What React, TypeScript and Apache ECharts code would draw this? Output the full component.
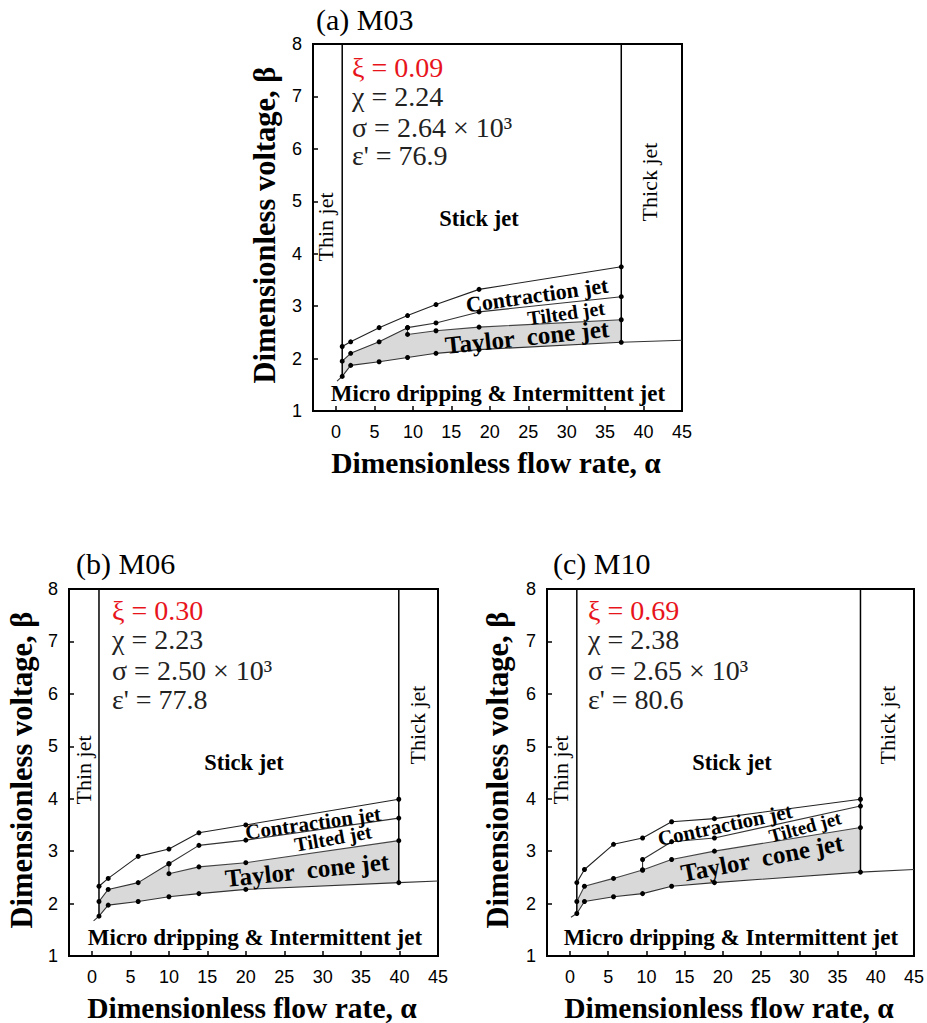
import React, { useEffect, useRef } from "react";
import * as echarts from "echarts";

// ---------- axis ticks ----------
const xTicks = [0, 5, 10, 15, 20, 25, 30, 35, 40, 45];
const xMin = -3;
const xMax = 45;
const yMin = 1;
const yMax = 8;

// ---------- Panel (a) M03 ----------
const aAlpha = [0.8, 1.9, 5.6, 9.3, 13.0, 18.6, 37.1];
const aContraction = [2.23, 2.32, 2.59, 2.82, 3.03, 3.32, 3.75];
const aTilted: (number | null)[] = [1.95, 2.1, 2.32, 2.59, 2.68, 2.89, 3.18];
const aTaylorTop: (number | null)[] = [null, null, null, 2.46, 2.53, 2.6, 2.74];
const aTaylorBottom = [1.66, 1.87, 1.94, 2.02, 2.1, 2.17, 2.31];
const aStart = [0.13, 1.57];
const aEnd = [45, 2.35];
const aParams = ["ξ = 0.09", "χ = 2.24", "σ = 2.64 × 10³", "ε' = 76.9"];

// ---------- Panel (b) M06 ----------
const bAlpha = [0.9, 2.1, 6.0, 10.0, 13.9, 20.0, 39.9];
const bContraction = [2.33, 2.48, 2.9, 3.04, 3.35, 3.5, 3.99];
const bTilted: (number | null)[] = [2.04, 2.27, 2.4, 2.76, 3.11, 3.21, 3.63];
const bTaylorTop: (number | null)[] = [null, null, null, 2.57, 2.7, 2.78, 3.2];
const bTaylorBottom = [1.76, 1.97, 2.04, 2.13, 2.19, 2.27, 2.4];
const bStart = [0.2, 1.67];
const bEnd = [45, 2.43];
const bParams = ["ξ = 0.30", "χ = 2.23", "σ = 2.50 × 10³", "ε' = 77.8"];

// ---------- Panel (c) M10 ----------
const cAlpha = [0.9, 1.9, 5.7, 9.5, 13.3, 18.9, 38.0];
const cContraction = [2.4, 2.65, 3.13, 3.25, 3.56, 3.62, 3.99];
const cTilted: (number | null)[] = [null, null, null, 2.84, 3.18, 3.25, 3.86];
const cTaylorTop: (number | null)[] = [2.04, 2.33, 2.48, 2.64, 2.84, 3.0, 3.45];
const cTaylorBottom = [1.81, 2.04, 2.13, 2.19, 2.33, 2.4, 2.6];
const cStart = [0.13, 1.74];
const cEnd = [45, 2.65];
const cParams = ["ξ = 0.69", "χ = 2.38", "σ = 2.65 × 10³", "ε' = 80.6"];

const SERIF = "'Liberation Serif', 'Times New Roman', serif";
const SANS = "'Liberation Sans', Arial, sans-serif";

type Panel = {
  alpha: number[];
  contraction: number[];
  tilted: (number | null)[];
  taylorTop: (number | null)[];
  bottom: number[];
  start: number[];
  end: number[];
};

const panels: Panel[] = [
  { alpha: aAlpha, contraction: aContraction, tilted: aTilted, taylorTop: aTaylorTop, bottom: aTaylorBottom, start: aStart, end: aEnd },
  { alpha: bAlpha, contraction: bContraction, tilted: bTilted, taylorTop: bTaylorTop, bottom: bTaylorBottom, start: bStart, end: bEnd },
  { alpha: cAlpha, contraction: cContraction, tilted: cTilted, taylorTop: cTaylorTop, bottom: cTaylorBottom, start: cStart, end: cEnd },
];

const grids = [
  { left: 313, top: 44, width: 369, height: 367 },
  { left: 69, top: 589, width: 369, height: 367 },
  { left: 547, top: 589, width: 368, height: 367 },
];

function firstIdx(v: (number | null)[]) {
  return v.findIndex((x) => x !== null);
}

// series with optional leading connector point
function buildLine(alpha: number[], vals: (number | null)[], join: (number | null)[]) {
  const k = firstIdx(vals);
  const out: number[][] = [];
  if (k > 0 && join[k] !== null) out.push([alpha[k], join[k] as number]);
  for (let i = k; i < alpha.length; i++) {
    if (vals[i] !== null) out.push([alpha[i], vals[i] as number]);
  }
  return out;
}

function buildFill(p: Panel) {
  const poly: number[][] = [];
  for (let i = 0; i < p.alpha.length; i++) poly.push([p.alpha[i], p.bottom[i]]);
  const k = firstIdx(p.taylorTop);
  for (let i = p.alpha.length - 1; i >= 0; i--) {
    if (p.taylorTop[i] !== null) {
      poly.push([p.alpha[i], p.taylorTop[i] as number]);
      if (i === k && k > 0 && p.tilted[i] !== null) poly.push([p.alpha[i], p.tilted[i] as number]);
    } else if (p.tilted[i] !== null) {
      poly.push([p.alpha[i], p.tilted[i] as number]);
    }
  }
  return poly;
}

function lineSeries(k: number, data: number[][], color: string, width: number, hideEnds = false, symbols = true) {
  const n = data.length;
  return {
    type: "line",
    xAxisIndex: k,
    yAxisIndex: k,
    data,
    showSymbol: symbols,
    symbol: "circle",
    symbolSize: symbols
      ? (_v: any, p: any) => (hideEnds && (p.dataIndex === 0 || p.dataIndex === n - 1) ? 0 : 5)
      : 0,
    itemStyle: { color: "#000" },
    lineStyle: { color, width },
    silent: true,
    z: 3,
  };
}

function txt(x: number, y: number, text: string, o: any = {}) {
  const align = o.align || "center";
  return {
    type: "text",
    x,
    y,
    rotation: ((o.rot || 0) * Math.PI) / 180,
    z: 10,
    style: {
      text,
      fontFamily: o.family || SERIF,
      fontSize: o.size || 22,
      fontWeight: o.weight || "normal",
      fill: o.color || "#000",
      align,
      textAlign: align,
      verticalAlign: "middle",
      textVerticalAlign: "middle",
    },
  };
}

type Layout = {
  title: string;
  titleX: number;
  titleY: number;
  paramX: number;
  paramY: number[];
  params: string[];
  stick: number[];
  thin: number[];
  thick: number[];
  contraction: number[];
  tilted: number[];
  taylor: number[];
  micro: number[];
  xTitle: number[];
  yTitle: number[];
};

const layouts: Layout[] = [
  {
    title: "(a) M03", titleX: 316, titleY: 19, paramX: 352, paramY: [67, 96, 127, 155], params: aParams,
    stick: [479, 218], thin: [325, 227], thick: [649, 182],
    contraction: [537, 295, 8, 22], tilted: [566, 313, 8, 20], taylor: [527, 337, 6, 25],
    micro: [498, 393], xTitle: [496, 463], yTitle: [265, 225],
  },
  {
    title: "(b) M06", titleX: 76, titleY: 563, paramX: 112, paramY: [610, 639, 670, 699], params: bParams,
    stick: [244, 762], thin: [83, 770], thick: [417, 725],
    contraction: [313, 823, 8, 21], tilted: [333, 838, 10, 20], taylor: [307, 870, 6, 25],
    micro: [255, 937], xTitle: [252, 1008], yTitle: [22, 770],
  },
  {
    title: "(c) M10", titleX: 553, titleY: 563, paramX: 588, paramY: [610, 639, 670, 699], params: cParams,
    stick: [732, 762], thin: [560, 770], thick: [887, 725],
    contraction: [725, 825, 12, 21], tilted: [805, 827, 15, 19], taylor: [762, 858, 11, 25],
    micro: [731, 937], xTitle: [729, 1008], yTitle: [498, 770],
  },
];

function buildOption() {
  const series: any[] = [];
  panels.forEach((p, k) => {
    const poly = buildFill(p);
    series.push({
      type: "custom",
      xAxisIndex: k,
      yAxisIndex: k,
      data: poly,
      encode: { x: 0, y: 1 },
      silent: true,
      z: 1,
      renderItem: (params: any, api: any) => {
        if (params.dataIndex !== 0) return null;
        const pts = poly.map((pt) => api.coord(pt));
        return { type: "polygon", shape: { points: pts }, style: { fill: "#d9d9d9", stroke: "none" } };
      },
    });
    const last = p.alpha.length - 1;
    // thin jet / thick jet boundaries
    series.push(lineSeries(k, [[p.alpha[0], p.bottom[0]], [p.alpha[0], yMax]], "#000", 1.5, false, false));
    series.push(lineSeries(k, [[p.alpha[last], p.bottom[last]], [p.alpha[last], yMax]], "#000", 1.5, false, false));
    // regime boundaries
    series.push(lineSeries(k, buildLine(p.alpha, p.contraction, p.contraction), "#222", 1.1));
    series.push(lineSeries(k, buildLine(p.alpha, p.tilted, p.taylorTop), "#333", 1.1));
    series.push(lineSeries(k, buildLine(p.alpha, p.taylorTop, p.tilted), "#444", 1.1));
    const bottomData = [p.start, ...p.alpha.map((a, i) => [a, p.bottom[i]]), p.end];
    series.push(lineSeries(k, bottomData, "#333", 1.1, true));
  });

  const graphic: any[] = [];
  layouts.forEach((L) => {
    graphic.push(txt(L.titleX, L.titleY, L.title, { align: "left", size: 30 }));
    L.params.forEach((s, i) =>
      graphic.push(txt(L.paramX, L.paramY[i], s, { align: "left", size: 28, color: i === 0 ? "#e8141b" : "#222" }))
    );
    graphic.push(txt(L.stick[0], L.stick[1], "Stick jet", { weight: "bold", size: 22.5 }));
    graphic.push(txt(L.thin[0], L.thin[1], "Thin jet", { rot: 90, size: 22 }));
    graphic.push(txt(L.thick[0], L.thick[1], "Thick jet", { rot: 90, size: 22 }));
    graphic.push(txt(L.contraction[0], L.contraction[1], "Contraction jet", { rot: L.contraction[2], size: L.contraction[3], weight: "bold" }));
    graphic.push(txt(L.tilted[0], L.tilted[1], "Tilted jet", { rot: L.tilted[2], size: L.tilted[3], weight: "bold" }));
    graphic.push(txt(L.taylor[0], L.taylor[1], "Taylor  cone jet", { rot: L.taylor[2], size: L.taylor[3], weight: "bold" }));
    graphic.push(txt(L.micro[0], L.micro[1], "Micro dripping & Intermittent jet", { weight: "bold", size: 23 }));
    graphic.push(txt(L.xTitle[0], L.xTitle[1], "Dimensionless flow rate, α", { weight: "bold", size: 29.5 }));
    graphic.push(txt(L.yTitle[0], L.yTitle[1], "Dimensionless voltage, β", { weight: "bold", size: 30.5, rot: 90 }));
  });

  return {
    animation: false,
    backgroundColor: "#fff",
    grid: grids.map((g) => ({ ...g, show: true, borderColor: "#000", borderWidth: 2, backgroundColor: "transparent" })),
    xAxis: grids.map((_, i) => ({
      type: "value",
      gridIndex: i,
      min: xMin,
      max: xMax,
      axisLine: { show: true, onZero: false, lineStyle: { color: "#000", width: 2 } },
      axisTick: { show: true, inside: true, length: 5, customValues: xTicks, lineStyle: { color: "#000", width: 1.5 } },
      axisLabel: { show: true, customValues: xTicks, margin: 12, fontFamily: SANS, fontSize: 18, color: "#000" },
      splitLine: { show: false },
    })),
    yAxis: grids.map((_, i) => ({
      type: "value",
      gridIndex: i,
      min: yMin,
      max: yMax,
      interval: 1,
      axisLine: { show: true, onZero: false, lineStyle: { color: "#000", width: 2 } },
      axisTick: { show: true, inside: true, length: 5, lineStyle: { color: "#000", width: 1.5 } },
      axisLabel: { show: true, margin: 11, fontFamily: SANS, fontSize: 18, color: "#000" },
      splitLine: { show: false },
    })),
    series,
    graphic,
  };
}

export default function App() {
  const ref = useRef<HTMLDivElement>(null);
  useEffect(() => {
    document.body.style.margin = "0";
    if (!ref.current) return;
    const chart = echarts.init(ref.current, undefined, { renderer: "svg" });
    chart.setOption(buildOption() as any);
    return () => chart.dispose();
  }, []);
  return <div ref={ref} style={{ width: 927, height: 1023 }} />;
}
